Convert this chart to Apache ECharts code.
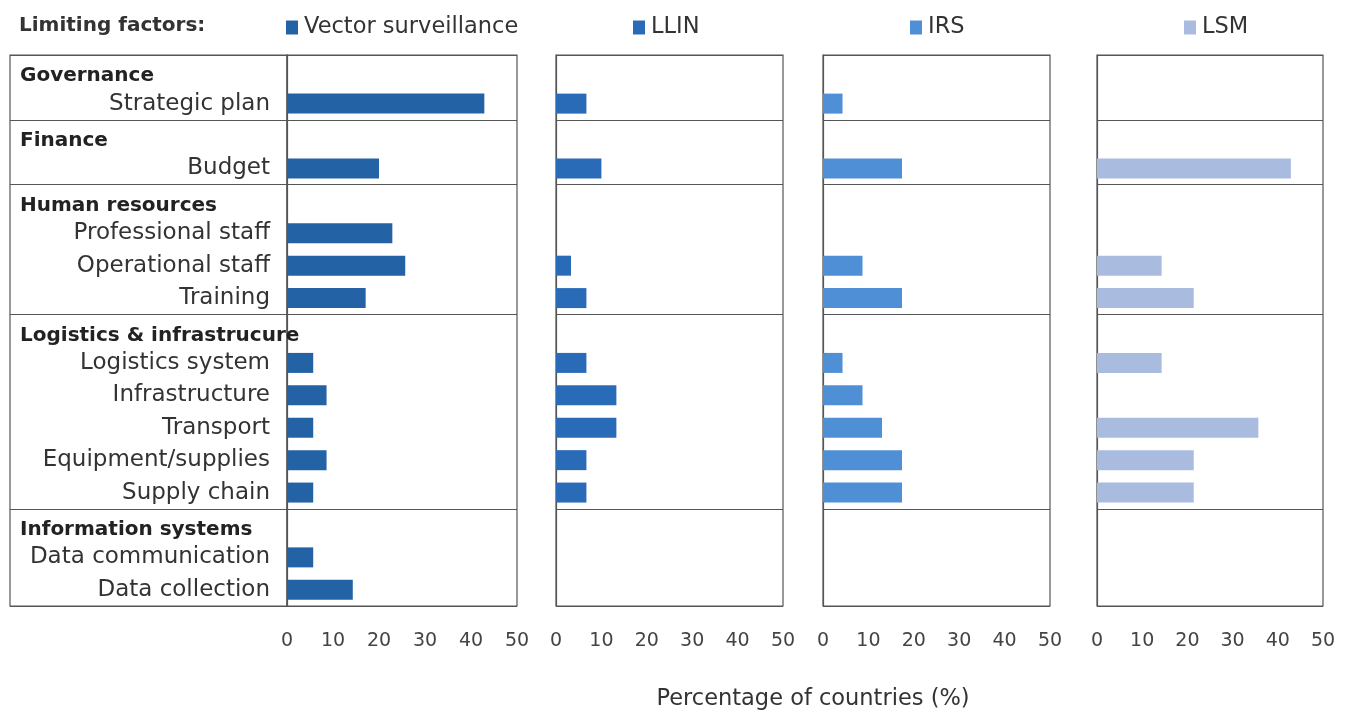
<!DOCTYPE html>
<html>
<head>
<meta charset="utf-8">
<script src="https://cdn.jsdelivr.net/npm/echarts@6/dist/echarts.min.js"></script>
<style>
html,body{margin:0;padding:0;background:#fff;}
#chart{width:1351px;height:715px;}
</style>
</head>
<body>
<div id="chart"></div>
<script>
// ---- data ----
const categories = ['Governance','Strategic plan','Finance','Budget','Human resources','Professional staff','Operational staff','Training','Logistics & infrastrucure','Logistics system','Infrastructure','Transport','Equipment/supplies','Supply chain','Information systems','Data communication','Data collection'];
const groupHeaders = ['Governance','Finance','Human resources','Logistics & infrastrucure','Information systems'];
const seriesNames = ['Vector surveillance','LLIN','IRS','LSM'];
const vectorSurveillance = [null,42.9,null,20.0,null,22.9,25.7,17.1,null,5.7,8.6,5.7,8.6,5.7,null,5.7,14.3];
const llin = [null,6.7,null,10.0,null,null,3.3,6.7,null,6.7,13.3,13.3,6.7,6.7,null,null,null];
const irs = [null,4.3,null,17.4,null,null,8.7,17.4,null,4.3,8.7,13.0,17.4,17.4,null,null,null];
const lsm = [null,null,null,42.9,null,null,14.3,21.4,null,14.3,null,35.7,21.4,21.4,null,null,null];
const xTicks = [0,10,20,30,40,50];

const colors = ['#2462a6','#2a6bb8','#4f8fd6','#a9bce0'];
const FONT = 'DejaVu Sans';
const lineColor = '#555555';

const gridTop = 55, gridHeight = 551;
const panels = [
  {left:287, width:230},
  {left:556, width:227},
  {left:823, width:227},
  {left:1097, width:226}
];
const allValues = [vectorSurveillance, llin, irs, lsm];

function isBoundary(idx){
  return groupHeaders.indexOf(categories[idx]) >= 0;
}

const grid = [], xAxis = [], yAxis = [], series = [], legend = [];
panels.forEach(function(p, i){
  grid.push({left:p.left, width:p.width, top:gridTop, height:gridHeight, show:true, borderColor:lineColor, borderWidth:1.2, backgroundColor:'#fff', containLabel:false});
  xAxis.push({type:'value', gridIndex:i, min:xTicks[0], max:xTicks[xTicks.length-1], interval:10,
    axisLine:{show:false}, axisTick:{show:false}, splitLine:{show:false},
    axisLabel:{show:true, margin:26, color:'#444', fontSize:19, fontFamily:FONT}});
  yAxis.push({type:'category', gridIndex:i, data:categories, inverse:true,
    axisLine:{show:true, lineStyle:{color:lineColor, width:1.2}}, axisTick:{show:false},
    splitLine:{show:true, interval:function(idx){return isBoundary(idx);}, lineStyle:{color:lineColor, width:1.2}},
    axisLabel: i === 0 ? {show:true, margin:17, fontFamily:FONT, color:'#333', fontSize:22,
      formatter:function(v){ return isBoundary(categories.indexOf(v)) ? '{h|' + v + '}' : '{n|' + v + '}'; },
      rich:{
        h:{width:250, align:'left', fontWeight:'bold', fontSize:20, fontFamily:FONT, color:'#222', padding:[10,0,0,0]},
        n:{fontSize:23, fontFamily:FONT, color:'#333'}
      }} : {show:false}
  });
  series.push({type:'bar', name:seriesNames[i], xAxisIndex:i, yAxisIndex:i, data:allValues[i],
    barWidth:20, itemStyle:{color:colors[i]}, silent:true});
});

// label-area frame for first panel (boxes extend into label column)
grid.push({left:10, width:277, top:gridTop, height:gridHeight, show:true, borderColor:lineColor, borderWidth:1.2, backgroundColor:'transparent'});
xAxis.push({type:'value', gridIndex:4, min:0, max:1, show:false});
yAxis.push({type:'category', gridIndex:4, data:categories, inverse:true, z:0,
  axisLine:{show:false}, axisTick:{show:false}, axisLabel:{show:false},
  splitLine:{show:true, interval:function(idx){return isBoundary(idx);}, lineStyle:{color:lineColor, width:1.2}}});

const legendLefts = [281, 628, 905, 1179];
seriesNames.forEach(function(n, i){
  legend.push({data:[n], left:legendLefts[i], top:11, icon:'rect', itemWidth:12, itemHeight:14, itemGap:4, selectedMode:false,
    textStyle:{fontFamily:FONT, fontSize:22.5, color:'#333', padding:[0,0,0,1]}});
});

const option = {
  animation:false,
  backgroundColor:'#fff',
  title:[
    {text:'Limiting factors:', left:14, top:11, textStyle:{fontFamily:FONT, fontSize:20, fontWeight:'bold', color:'#333'}},
    {text:'Percentage of countries (%)', left:808, top:683, textAlign:'center', textStyle:{fontFamily:FONT, fontSize:22.5, fontWeight:'normal', color:'#333'}}
  ],
  legend:legend,
  grid:grid,
  xAxis:xAxis,
  yAxis:yAxis,
  series:series
};
const chart = echarts.init(document.getElementById('chart'), null, {renderer:'canvas'});
chart.setOption(option);
</script>
</body>
</html>
